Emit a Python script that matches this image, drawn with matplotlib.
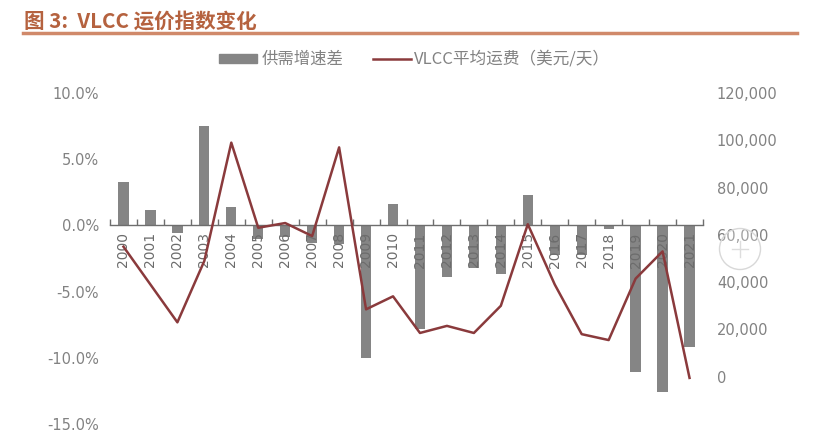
import matplotlib.pyplot as plt
from matplotlib.patches import Circle, Rectangle
from matplotlib.lines import Line2D

plt.rcParams['font.family'] = ['Noto Sans CJK SC', 'DejaVu Sans']

# values
years = ['2000', '2001', '2002', '2003', '2004', '2005', '2006', '2007', '2008', '2009', '2010',
         '2011', '2012', '2013', '2014', '2015', '2016', '2017', '2018', '2019', '2020', '2021']
gap = [3.3, 1.2, -0.6, 7.5, 1.4, -1.0, -0.9, -1.3, -1.4, -10.0, 1.6,
       -7.8, -3.9, -3.2, -3.7, 2.3, -2.2, -2.2, -0.3, -11.1, -12.6, -9.2]
rate = [55000, 39000, 23000, 49000, 99000, 63000, 65000, 59500, 97000, 28500, 34000,
        18500, 21500, 18500, 30000, 64500, 39000, 18000, 15500, 41500, 53000, -500]
left_ticks = [10, 5, 0, -5, -10, -15]
left_labels = ['10.0%', '5.0%', '0.0%', '-5.0%', '-10.0%', '-15.0%']
right_ticks = [0, 20000, 40000, 60000, 80000, 100000, 120000]
right_labels = ['0', '20,000', '40,000', '60,000', '80,000', '100,000', '120,000']

W, H = 813, 448
gray_text = '#828282'
bar_color = '#858585'
line_color = '#8a3a3c'

fig = plt.figure(figsize=(W / 100, H / 100), dpi=100)
ax = fig.add_axes([110 / W, 1 - 424 / H, 593 / W, 331 / H])

x = list(range(len(years)))
ax.bar(x, gap, width=0.38, color=bar_color, label='供需增速差')
ax.set_xlim(-0.5, len(years) - 0.5)
ax.set_ylim(-15, 10)

ax.spines['top'].set_visible(False)
ax.spines['left'].set_visible(False)
ax.spines['right'].set_visible(False)
ax.spines['bottom'].set_position(('data', 0))
ax.spines['bottom'].set_color('#6e6e6e')
ax.spines['bottom'].set_linewidth(1.0)

ax.set_xticks(x)
ax.set_xticklabels(years, rotation=90)
ax.set_xticks([i - 0.5 for i in range(len(years) + 1)], minor=True)
ax.tick_params(axis='x', which='major', length=0, pad=5)
ax.tick_params(axis='x', which='minor', direction='in', length=4, color='#6e6e6e', width=1)

ax.set_yticks(left_ticks)
ax.set_yticklabels(left_labels)
ax.tick_params(axis='y', length=0, pad=8)

ax2 = ax.twinx()
ax2.plot(x, rate, color=line_color, linewidth=1.8, label='VLCC平均运费（美元/天）')
ax2.set_ylim(-20000, 120000)
for s in ax2.spines.values():
    s.set_visible(False)
ax2.set_yticks(right_ticks)
ax2.set_yticklabels(right_labels)
ax2.tick_params(axis='y', length=0, pad=10)

# tick labels are a wide latin face in the source
for lab in ax.get_xticklabels():
    lab.set_fontfamily('DejaVu Sans')
    lab.set_fontsize(10)
    lab.set_color('#6c6c6c')
for lab in ax.get_yticklabels() + ax2.get_yticklabels():
    lab.set_fontfamily('DejaVu Sans')
    lab.set_fontsize(10.5)
    lab.set_color(gray_text)

# heading and rule
fig.text(24 / W, 1 - 21 / H, '图 3:  VLCC 运价指数变化', fontsize=14.8, fontweight='bold',
         color='#b5623f', va='center', ha='left')
fig.add_artist(Line2D([23 / W, 797 / W], [1 - 33 / H, 1 - 33 / H], color='#d0896a', linewidth=2.5))

# legend
fig.add_artist(Rectangle((219 / W, 1 - 63 / H), 38 / W, 9 / H, color=bar_color, transform=fig.transFigure))
fig.text(262 / W, 1 - 59 / H, '供需增速差', fontsize=11.8, color=gray_text, va='center', ha='left')
fig.add_artist(Line2D([373 / W, 411 / W], [1 - 59 / H, 1 - 59 / H], color=line_color, linewidth=1.8))
fig.text(414 / W, 1 - 59 / H, 'VLCC平均运费（美元/天）', fontsize=12, color=gray_text, va='center', ha='left')

# round overlay button sitting on the source screenshot
pad = fig.add_axes([0, 0, 1, 1], facecolor='none')
pad.set_xlim(0, W)
pad.set_ylim(H, 0)
pad.axis('off')
pad.add_patch(Circle((740, 249), 20.5, facecolor=(1, 1, 1, 0.25), edgecolor='#d8d8d8', linewidth=1))
pad.plot([732, 748], [249, 249], color='#dddddd', linewidth=1)
pad.plot([740, 740], [241, 257], color='#dddddd', linewidth=1)

fig.savefig('out.png', dpi=100)
